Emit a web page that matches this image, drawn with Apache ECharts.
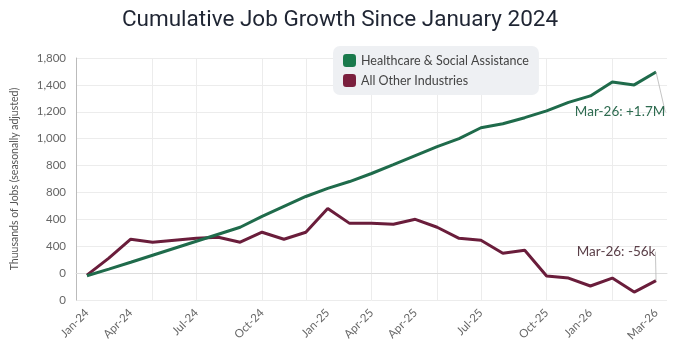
<!DOCTYPE html>
<html>
<head>
<meta charset="utf-8">
<script src="https://cdn.jsdelivr.net/npm/echarts@6/dist/echarts.min.js"></script>
<style>html,body{margin:0;padding:0;background:#fff;}#c{width:680px;height:359px;}</style>
</head>
<body>
<div id="c"></div>
<script>
const categories = ['Jan-24','Feb-24','Mar-24','Apr-24','May-24','Jun-24','Jul-24','Aug-24','Sep-24','Oct-24','Nov-24','Dec-24',
  'Jan-25','Feb-25','Mar-25','Apr-25','May-25','Jun-25','Jul-25','Aug-25','Sep-25','Oct-25','Nov-25','Dec-25',
  'Jan-26','Feb-26','Mar-26'];
const healthcare = [-20, 30, 81, 133, 185, 237, 289, 341, 422, 496, 570, 630, 681, 741, 807, 874, 941, 1000, 1081, 1111, 1156, 1207, 1270, 1318, 1422, 1400, 1496];
const otherInd = [-15, 111, 252, 230, 245, 260, 267, 230, 304, 252, 304, 481, 370, 370, 363, 400, 341, 259, 244, 148, 170, -22, -37, -96, -37, -141, -56];
const yTickLabels = ['0','0','400','400','800','800','1,000','1,200','1,400','1,800'];
const xTickIdx = [0, 2, 5, 8, 11, 13, 15, 18, 21, 23, 26];
const xTickLabels = ['Jan-24','Apr-24','Jul-24','Oct-24','Jan-25','Apr-25','Apr-25','Jul-25','Oct-25','Jan-26','Mar-26'];
const vGridIdx = [3, 5, 8, 10, 13, 16, 18, 21, 24];
const annoGreen = 'Mar-26: +1.7M';
const annoRed = 'Mar-26: -56k';

const FONT = 'Lato, "Open Sans", sans-serif';
const GREEN = '#1f6b4b';
const RED = '#6a1d3b';

function withLastLabel(arr, text, color, pos) {
  return arr.map((v, i) => i === arr.length - 1 ? {
    value: v,
    label: { show: true, formatter: text, position: pos, color: color, fontSize: 13.5, fontFamily: FONT, distance: 5 },
    labelLine: { show: true, lineStyle: { color: '#b5b5b5', width: 0.8 } }
  } : v);
}

const chart = echarts.init(document.getElementById('c'), null, { renderer: 'canvas' });
chart.setOption({
  backgroundColor: '#ffffff',
  animation: false,
  title: {
    text: 'Cumulative Job Growth Since January 2024',
    left: 'center', top: 4,
    textStyle: { fontFamily: 'Roboto, Arial, sans-serif', fontSize: 22.5, fontWeight: 'normal', color: '#1f2533' }
  },
  legend: {
    orient: 'vertical', left: 333, top: 46,
    backgroundColor: '#eef0f3', borderRadius: 7,
    padding: [8, 10, 8, 10],
    itemWidth: 13, itemHeight: 13, itemGap: 7,
    icon: 'roundRect',
    textStyle: { fontFamily: FONT, fontSize: 12.5, color: '#444' },
    data: ['Healthcare & Social Assistance', 'All Other Industries']
  },
  grid: { left: 76, right: 13, top: 58, bottom: 59, containLabel: false },
  xAxis: {
    type: 'category',
    data: categories,
    boundaryGap: true,
    axisLine: { show: true, lineStyle: { color: '#dddddd' } },
    axisTick: { show: false },
    axisLabel: {
      rotate: 45, margin: 11, color: '#666', fontFamily: FONT, fontSize: 11.5,
      interval: (i) => xTickIdx.includes(i),
      formatter: (v, i) => { const k = xTickIdx.indexOf(i); return k >= 0 ? xTickLabels[k] : ''; }
    },
    splitLine: {
      show: true, alignWithLabel: true,
      interval: (i) => vGridIdx.includes(i),
      lineStyle: { color: '#ececec' }
    }
  },
  yAxis: {
    type: 'value',
    min: -200, max: 1600, interval: 200,
    name: 'Thuusands of Jobs (seasonally adjusted)',
    nameLocation: 'middle', nameGap: 56, nameRotate: 90,
    nameTextStyle: { fontFamily: FONT, fontSize: 10.5, color: '#555' },
    axisLine: { show: true, lineStyle: { color: '#bbbbbb' } },
    axisTick: { show: false },
    axisLabel: {
      color: '#666', fontFamily: FONT, fontSize: 11.5, margin: 10,
      formatter: (v) => yTickLabels[Math.round((v + 200) / 200)]
    },
    splitLine: { lineStyle: { color: '#ececec' } }
  },
  series: [
    {
      name: 'Healthcare & Social Assistance', type: 'line',
      data: withLastLabel(healthcare, annoGreen, '#2e6b50', 'bottom'),
      symbol: 'circle', symbolSize: 0.01, showSymbol: true,
      labelLayout: { dx: -36, dy: 28 },
      lineStyle: { width: 3, color: GREEN }, itemStyle: { color: '#1a7a4c' }, z: 3
    },
    {
      name: 'All Other Industries', type: 'line',
      data: withLastLabel(otherInd, annoRed, '#5a3f48', 'top'),
      symbol: 'circle', symbolSize: 0.01, showSymbol: true,
      labelLayout: { dx: -40, dy: -17 },
      lineStyle: { width: 3, color: RED }, itemStyle: { color: '#7a1f3d' }, z: 2
    }
  ]
});
</script>
</body>
</html>
